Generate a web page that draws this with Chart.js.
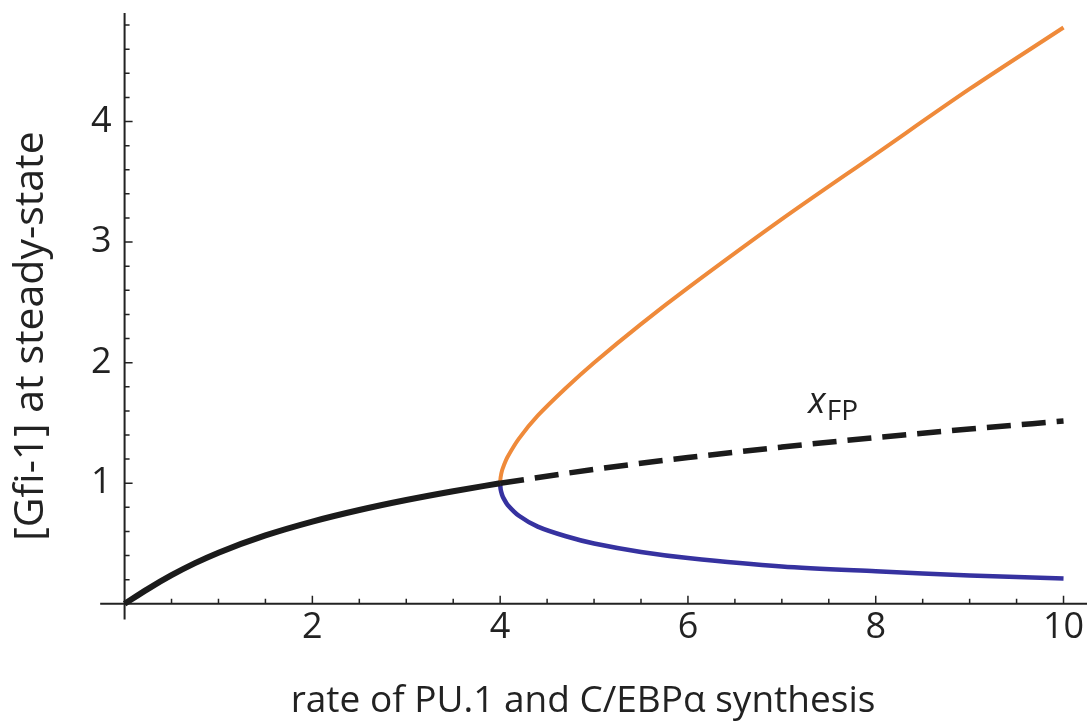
<!DOCTYPE html>
<html>
<head>
<meta charset="utf-8">
<script src="https://cdn.jsdelivr.net/npm/chart.js@4/dist/chart.umd.min.js"></script>
<style>
  html, body { margin: 0; padding: 0; background: #fff; }
  #wrap { width: 1087px; height: 727px; position: relative; }
</style>
</head>
<body>
<div id="wrap"><canvas id="bifChart"></canvas></div>
<script>
// stable branch of the symmetric fixed point (solid black)
const stableRate = [0, 0.25, 0.5, 0.75, 1, 1.5, 2, 2.5, 3, 3.5, 4];
const stableGfi  = [0, 0.124, 0.237, 0.337, 0.424, 0.567, 0.682, 0.778, 0.861, 0.934, 1.0];

// unstable continuation x_FP (dashed black)
const unstableRate = [4, 5, 6, 7, 8, 9, 10];
const unstableGfi  = [1.0, 1.115, 1.213, 1.30, 1.379, 1.45, 1.516];

// the two new stable branches after the fold
const branchRate = [4, 4.005, 4.02, 4.04, 4.08, 4.2, 4.4, 4.7, 5, 5.5, 6, 7, 8, 9, 10];
const upperGfi   = [1.0, 1.05, 1.105, 1.15, 1.22, 1.37, 1.56, 1.79, 2.0, 2.32, 2.62, 3.19, 3.73, 4.27, 4.78];
const lowerGfi   = [1.0, 0.95, 0.905, 0.87, 0.82, 0.73, 0.64, 0.56, 0.5, 0.43, 0.38, 0.31, 0.27, 0.235, 0.21];

const xTickValues = [2, 4, 6, 8, 10];
const yTickValues = [1, 2, 3, 4];
const xMinorStep = 0.5;
const yMinorStep = 0.2;

const xTitle = 'rate of PU.1 and C/EBP\u03B1 synthesis';
const yTitle = '[Gfi-1] at steady-state';

const FONT = '"Open Sans", "Noto Sans", sans-serif';
const toPoints = (xs, ys) => xs.map((x, i) => ({ x: x, y: ys[i] }));

// Mathematica-style axes crossing at the origin, ticks pointing inward
const axesPlugin = {
  id: 'mathAxes',
  beforeDatasetsDraw(chart) {
    const { ctx, scales: { x, y } } = chart;
    const x0 = x.getPixelForValue(0);
    const y0 = y.getPixelForValue(0);
    ctx.save();
    ctx.strokeStyle = '#222';
    ctx.lineWidth = 2;
    ctx.beginPath();
    ctx.moveTo(x.getPixelForValue(-0.26), y0);
    ctx.lineTo(chart.width, y0);
    ctx.moveTo(x0, y.getPixelForValue(-0.13));
    ctx.lineTo(x0, y.getPixelForValue(4.9));
    ctx.stroke();

    ctx.lineWidth = 1.5;
    ctx.beginPath();
    for (let v = xMinorStep; v <= x.max; v += xMinorStep) {
      const px = x.getPixelForValue(v);
      const len = xTickValues.some(t => Math.abs(t - v) < 1e-6) ? 8 : 5;
      ctx.moveTo(px, y0);
      ctx.lineTo(px, y0 - len);
    }
    for (let v = yMinorStep; v <= y.max; v += yMinorStep) {
      const py = y.getPixelForValue(v);
      const len = yTickValues.some(t => Math.abs(t - v) < 1e-6) ? 8 : 5;
      ctx.moveTo(x0, py);
      ctx.lineTo(x0 + len, py);
    }
    ctx.stroke();
    ctx.restore();
  },
  afterDraw(chart) {
    const { ctx, scales: { x, y } } = chart;
    ctx.save();
    ctx.fillStyle = '#222';
    ctx.textAlign = 'center';
    ctx.textBaseline = 'middle';
    ctx.font = '37px ' + FONT;
    ctx.fillText(xTitle, 583, 701);

    ctx.translate(31, 336);
    ctx.rotate(-Math.PI / 2);
    ctx.font = '41px ' + FONT;
    ctx.fillText(yTitle, 0, 0);
    ctx.restore();

    // label for the dashed branch
    ctx.save();
    ctx.fillStyle = '#222';
    ctx.textBaseline = 'alphabetic';
    ctx.textAlign = 'left';
    ctx.font = 'italic 36px ' + FONT;
    const lx = x.getPixelForValue(7.28);
    const ly = y.getPixelForValue(1.58);
    ctx.fillText('x', lx, ly);
    ctx.font = '28px ' + FONT;
    ctx.fillText('FP', lx + ctx.measureText('x').width + 4, ly + 7);
    ctx.restore();
  }
};

const noEdgePadding = s => { s.paddingTop = 0; s.paddingBottom = 0; };

new Chart(document.getElementById('bifChart'), {
  type: 'scatter',
  data: {
    datasets: [
      {
        label: 'stable',
        data: toPoints(stableRate, stableGfi),
        showLine: true, borderColor: '#1b1b1b', borderWidth: 6,
        pointRadius: 0, cubicInterpolationMode: 'monotone', clip: false, order: 0
      },
      {
        label: 'x_FP',
        data: toPoints(unstableRate, unstableGfi),
        showLine: true, borderColor: '#1b1b1b', borderWidth: 5.5,
        borderDash: [24, 11], borderCapStyle: 'butt',
        pointRadius: 0, cubicInterpolationMode: 'monotone', clip: false, order: 1
      },
      {
        label: 'upper',
        data: toPoints(branchRate, upperGfi),
        showLine: true, borderColor: '#ef8a3a', borderWidth: 4,
        pointRadius: 0, tension: 0.3, clip: false, order: 2
      },
      {
        label: 'lower',
        data: toPoints(branchRate, lowerGfi),
        showLine: true, borderColor: '#3632a0', borderWidth: 4.5,
        pointRadius: 0, tension: 0.3, clip: false, order: 3
      }
    ]
  },
  options: {
    responsive: true,
    maintainAspectRatio: false,
    animation: false,
    events: [],
    layout: { padding: { left: 78, right: 0, top: 13, bottom: 76 } },
    plugins: {
      legend: { display: false },
      tooltip: { enabled: false }
    },
    scales: {
      x: {
        type: 'linear', min: 0, max: 10.25,
        grid: { display: false, drawTicks: false },
        border: { display: false },
        afterBuildTicks: s => { s.ticks = xTickValues.map(v => ({ value: v })); },
        ticks: { color: '#222', autoSkip: false, maxRotation: 0, padding: 2,
                 font: { family: FONT, size: 36 } }
      },
      y: {
        type: 'linear', min: 0, max: 4.9,
        grid: { display: false, drawTicks: false },
        border: { display: false },
        afterBuildTicks: s => { s.ticks = yTickValues.map(v => ({ value: v })); },
        afterFit: noEdgePadding,
        ticks: { color: '#222', autoSkip: false, padding: 13,
                 font: { family: FONT, size: 36 } }
      }
    }
  },
  plugins: [axesPlugin]
});
</script>
</body>
</html>
